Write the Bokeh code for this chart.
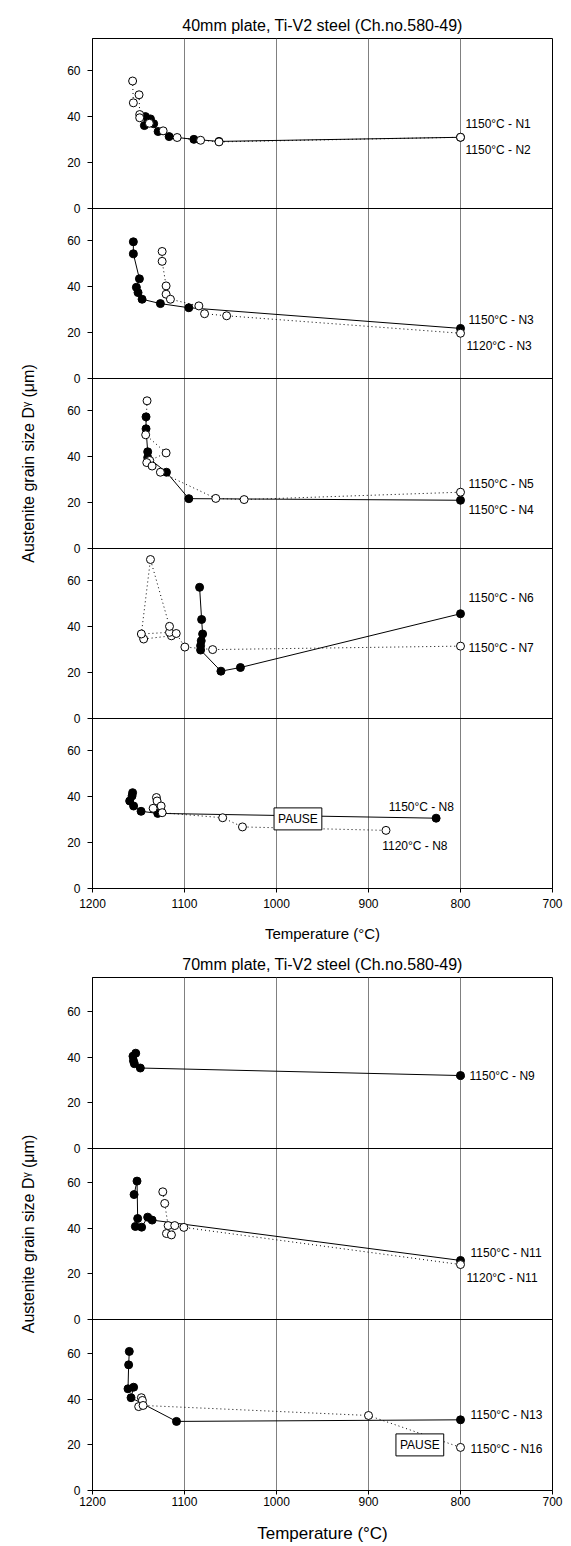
import numpy as np
from bokeh.plotting import figure
from bokeh.models import Range1d, FixedTicker, Grid, Label, Span
from bokeh.layouts import column
from bokeh.embed import file_html
from bokeh.resources import INLINE

FONT = "Liberation Sans"

TEMP_TICKS = [1200, 1100, 1000, 900, 800, 700]
GRID_TICKS = [1100, 1000, 900, 800]
D_TICKS = [0, 20, 40, 60]

TITLE_40 = "40mm plate, Ti-V2 steel (Ch.no.580-49)"
TITLE_70 = "70mm plate, Ti-V2 steel (Ch.no.580-49)"
X_LABEL = "Temperature (°C)"
Y_LABEL = "Austenite grain size Dᵞ (μm)"

# ---------------- 40 mm plate ----------------
# panel 1 : N1 / N2
p1_fill_t = [1143.6, 1142.5, 1137.0, 1133.5, 1128.7, 1116.7, 1089.8, 1062.5, 800]
p1_fill_d = [36.1, 40.0, 39.0, 36.9, 33.5, 31.3, 30.1, 29.2, 31.0]
p1_open_t = [1156.4, 1155.6, 1149.4, 1148.7, 1148.7, 1138.2, 1123.2, 1108.0, 1082.5, 1062.5, 800]
p1_open_d = [55.5, 46.0, 49.5, 40.9, 39.5, 37.1, 33.8, 30.9, 29.7, 29.0, 31.0]
# panel 2 : N3
p2_fill_t = [1155.6, 1155.6, 1149.0, 1152.3, 1150.5, 1146.1, 1126.2, 1095.3, 800]
p2_fill_d = [59.5, 54.3, 43.4, 39.7, 37.4, 34.5, 32.6, 30.8, 21.8]
p2_open_t = [1124.3, 1124.3, 1120.0, 1120.0, 1115.3, 1084.4, 1078.2, 1054.2, 800]
p2_open_d = [55.3, 51.0, 40.3, 36.7, 34.5, 31.6, 28.2, 27.3, 19.7]
# panel 3 : N4 / N5
p3_fill_t = [1141.8, 1141.8, 1140.0, 1140.0, 1119.6, 1095.3, 800]
p3_fill_d = [57.3, 52.1, 42.1, 39.6, 33.2, 21.7, 21.0]
p3_open_t = [1140.7, 1142.2, 1120.0, 1137.8, 1141.0, 1135.2, 1126.2, 1066.0, 1035.2, 800]
p3_open_d = [64.3, 49.5, 41.6, 38.3, 37.4, 35.9, 33.2, 21.8, 21.3, 24.5]
# panel 4 : N6 / N7
p4_fill_t = [1083.6, 1081.4, 1080.3, 1081.8, 1082.5, 1082.5, 1060.4, 1039.2, 800]
p4_fill_d = [57.1, 43.1, 36.8, 33.8, 31.7, 29.8, 20.6, 22.2, 45.6]
p4_open_t = [1144.4, 1114.2, 1116.3, 1146.9, 1137.0, 1116.3, 1109.0, 1099.6, 1069.4, 800]
p4_open_d = [34.6, 36.0, 37.5, 36.8, 69.2, 40.1, 37.0, 31.1, 30.0, 31.5]
# panel 5 : N8
p5_fill_t = [1156.4, 1157.0, 1159.6, 1155.3, 1147.2, 1129.1, 826.5]
p5_fill_d = [41.7, 40.3, 38.1, 35.9, 33.6, 32.7, 30.6]
p5_open_t = [1130.5, 1129.8, 1125.4, 1134.1, 1124.3, 1058.5, 1037.0, 881.0]
p5_open_d = [39.6, 38.1, 35.9, 34.9, 33.0, 30.8, 26.8, 25.3]

# ---------------- 70 mm plate ----------------
# panel 1 : N9
b1_fill_t = [1153.0, 1156.0, 1155.5, 1154.5, 1148.0, 800]
b1_fill_d = [41.8, 40.5, 38.5, 37.2, 35.3, 32.0]
b1_open_t = []
b1_open_d = []
# panel 2 : N11
b2_fill_t = [1154.8, 1151.6, 1150.9, 1153.4, 1146.6, 1140.0, 1135.2, 800]
b2_fill_d = [54.8, 60.7, 44.3, 40.8, 40.5, 44.9, 43.6, 25.9]
b2_open_t = [1123.6, 1121.5, 1117.8, 1119.6, 1114.2, 1110.6, 1100.7, 800]
b2_open_d = [56.0, 50.9, 41.2, 37.7, 37.1, 41.2, 40.4, 24.1]
# panel 3 : N13 / N16
b3_fill_t = [1160.0, 1160.7, 1161.4, 1155.3, 1158.1, 1108.7, 800]
b3_fill_d = [61.0, 55.1, 44.6, 45.3, 40.7, 30.3, 31.0]
b3_open_t = [1146.9, 1145.8, 1149.8, 1145.0, 900.0, 800]
b3_open_d = [40.7, 39.5, 36.8, 37.3, 32.9, 18.9]

# annotation texts: (text, T, D, x_offset, align)
p1_labels = [("1150°C - N1", 800, 36.6, 5, "left"), ("1150°C - N2", 800, 25.6, 5, "left")]
p2_labels = [("1150°C - N3", 800, 25.5, 8, "left"), ("1120°C - N3", 800, 14.1, 6, "left")]
p3_labels = [("1150°C - N5", 800, 28.0, 8, "left"), ("1150°C - N4", 800, 16.6, 8, "left")]
p4_labels = [("1150°C - N6", 800, 52.6, 8, "left"), ("1150°C - N7", 800, 30.8, 8, "left")]
p5_labels = [("1150°C - N8", 842.6, 35.6, 0, "center"), ("1120°C - N8", 849.6, 18.5, 0, "center")]
b1_labels = [("1150°C - N9", 800, 32.0, 9, "left")]
b2_labels = [("1150°C - N11", 800, 29.3, 10, "left"), ("1120°C - N11", 800, 18.0, 6, "left")]
b3_labels = [("1150°C - N13", 800, 32.9, 10, "left"), ("1150°C - N16", 800, 18.4, 10, "left")]
p5_pause = [(976.7, 30.3)]
b3_pause = [(844.2, 20.0)]

TOP_PANELS = [
    (p1_fill_t, p1_fill_d, p1_open_t, p1_open_d, p1_labels, []),
    (p2_fill_t, p2_fill_d, p2_open_t, p2_open_d, p2_labels, []),
    (p3_fill_t, p3_fill_d, p3_open_t, p3_open_d, p3_labels, []),
    (p4_fill_t, p4_fill_d, p4_open_t, p4_open_d, p4_labels, []),
    (p5_fill_t, p5_fill_d, p5_open_t, p5_open_d, p5_labels, p5_pause),
]
BOT_PANELS = [
    (b1_fill_t, b1_fill_d, b1_open_t, b1_open_d, b1_labels, []),
    (b2_fill_t, b2_fill_d, b2_open_t, b2_open_d, b2_labels, []),
    (b3_fill_t, b3_fill_d, b3_open_t, b3_open_d, b3_labels, b3_pause),
]


def make_chart(panels, title, span, frame_h, top, bottom, xlabel_size, tick_stand, label_stand):
    n = len(panels)
    bases = [(n - 1 - i) * span for i in range(n)]
    p = figure(frame_width=460, frame_height=frame_h,
               x_range=Range1d(1200, 700), y_range=Range1d(0, n * span),
               output_backend="svg", toolbar_location=None, title=title,
               min_border_left=92, min_border_right=13,
               min_border_top=top, min_border_bottom=bottom)
    p.background_fill_color = "white"
    p.border_fill_color = "white"
    p.outline_line_color = "black"
    p.outline_line_alpha = 1
    p.outline_line_width = 1
    p.grid.visible = False
    p.add_layout(Grid(dimension=0, ticker=FixedTicker(ticks=GRID_TICKS),
                      grid_line_color="#808080", grid_line_width=1))

    p.title.text_font = FONT
    p.title.text_font_size = "16px"
    p.title.text_font_style = "normal"
    p.title.text_color = "black"
    p.title.align = "center"
    p.title.offset = -8
    p.title.standoff = 10

    # y axis: one set of ticks per stacked panel
    ticks = []
    overrides = {}
    for b in bases:
        for t in D_TICKS:
            ticks.append(b + t)
            overrides[b + t] = str(t)
    ya = p.yaxis[0]
    ya.ticker = FixedTicker(ticks=sorted(ticks))
    ya.major_label_overrides = overrides
    ya.major_tick_in = 0
    ya.major_tick_out = 5
    ya.minor_tick_in = 0
    ya.minor_tick_out = 0
    ya.major_label_standoff = 7
    ya.major_label_text_font = FONT
    ya.major_label_text_font_size = "12px"
    ya.major_label_text_color = "black"
    ya.axis_line_color = "black"
    ya.major_tick_line_color = "black"
    ya.axis_label = Y_LABEL
    ya.axis_label_text_font = FONT
    ya.axis_label_text_font_size = "16px"
    ya.axis_label_text_font_style = "normal"
    ya.axis_label_text_color = "black"
    ya.axis_label_standoff = 27

    xa = p.xaxis[0]
    xa.ticker = FixedTicker(ticks=TEMP_TICKS)
    xa.major_tick_in = 0
    xa.major_tick_out = 4
    xa.minor_tick_in = 0
    xa.minor_tick_out = 0
    xa.major_label_standoff = tick_stand
    xa.major_label_text_font = FONT
    xa.major_label_text_font_size = "12px"
    xa.major_label_text_color = "black"
    xa.axis_line_color = "black"
    xa.major_tick_line_color = "black"
    xa.axis_label = X_LABEL
    xa.axis_label_text_font = FONT
    xa.axis_label_text_font_size = xlabel_size
    xa.axis_label_text_font_style = "normal"
    xa.axis_label_text_color = "black"
    xa.axis_label_standoff = label_stand

    for b in bases[:-1]:
        p.add_layout(Span(location=b, dimension="width", line_color="black", line_width=1))

    for (fill_t, fill_d, open_t, open_d, labels, pauses), b in zip(panels, bases):
        fy = np.asarray(fill_d, dtype=float) + b
        p.line(fill_t, fy, line_color="black", line_width=1)
        if open_t:
            oy = np.asarray(open_d, dtype=float) + b
            p.line(open_t, oy, line_color="black", line_width=1, line_dash="1 3")
        p.scatter(fill_t, fy, marker="circle", size=8, fill_color="black",
                  line_color="black", line_width=1)
        if open_t:
            p.scatter(open_t, oy, marker="circle", size=8, fill_color="white",
                      line_color="black", line_width=1)
        for text, t, d, dx, align in labels:
            p.add_layout(Label(x=t, y=d + b, x_offset=dx, text=text, text_align=align,
                               text_baseline="middle", text_font=FONT,
                               text_font_size="12px", text_color="black"))
        for t, d in pauses:
            p.add_layout(Label(x=t, y=d + b, text="PAUSE", text_align="center",
                               text_baseline="middle", text_font=FONT,
                               text_font_size="12px", text_color="black",
                               background_fill_color="white", background_fill_alpha=1,
                               border_line_color="black", border_line_width=1,
                               padding=4))
    return p


top_chart = make_chart(TOP_PANELS, TITLE_40, 74, 850, 38, 60, "15px", 6, 14)
bot_chart = make_chart(BOT_PANELS, TITLE_70, 75, 513, 29, 56, "17px", 2, 15)

layout = column(top_chart, bot_chart, spacing=0)
open("out.html", "w").write(file_html(layout, INLINE))
